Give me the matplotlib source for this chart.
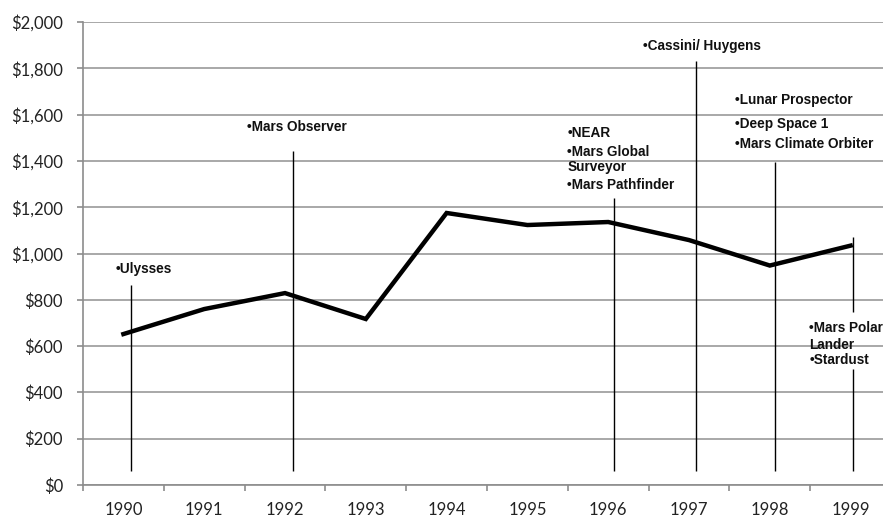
import matplotlib
matplotlib.use("Agg")
import matplotlib.pyplot as plt
from matplotlib.ticker import FuncFormatter, MultipleLocator, FixedLocator

# spending per year ($ millions)
years = ["1990", "1991", "1992", "1993", "1994", "1995", "1996", "1997", "1998", "1999"]
spending = [652, 760, 829, 717, 1175, 1123, 1136, 1058, 948, 1034]

# launch marker lines: year index, bottom and top values
launch_idx = [0, 2, 6, 7, 8, 9, 9]
launch_low = [60, 60, 60, 60, 60, 749, 60]
launch_high = [864, 1444, 1241, 1832, 1397, 1071, 501]

# mission labels, one entry per text line
mission_lines = [
    "\u2022Ulysses",
    "\u2022Mars Observer",
    "\u2022NEAR", "\u2022Mars Global", "Surveyor", "\u2022Mars Pathfinder",
    "\u2022Cassini/ Huygens",
    "\u2022Lunar Prospector", "\u2022Deep Space 1", "\u2022Mars Climate Orbiter",
    "\u2022Mars Polar", "Lander", "\u2022Stardust",
]

# label baselines (x in category units, y in $) - layout only
label_xy = [(-0.10, 916),
            (1.535, 1529),
            (5.495, 1503), (5.495, 1421), (5.495, 1356), (5.495, 1279),
            (6.436, 1877),
            (7.574, 1646), (7.574, 1544), (7.574, 1456),
            (8.49, 661), (8.49, 587), (8.49, 523)]
line_offsets = [0.09, 0.10, 0.07, 0.09, 0.07, 0.025, 0.025]

fig = plt.figure(figsize=(8.83, 5.17), dpi=100)
ax = fig.add_axes([83 / 883, 32 / 517, 808 / 883, 463 / 517])

x = list(range(len(years)))
ax.plot(x, spending, color="black", linewidth=3.2, solid_joinstyle="miter", zorder=3)

xs = [launch_idx[i] + line_offsets[i] for i in range(len(launch_idx))]
ax.vlines(xs, launch_low, launch_high, color="black", linewidth=1.0, zorder=2)

for (tx, ty), txt in zip(label_xy, mission_lines):
    ax.text(tx, ty, txt, ha="left", va="baseline", fontsize=9.8, fontweight="bold",
            family="Liberation Sans", color="#111111", zorder=4)

ax.set_xlim(-0.5, len(years) - 0.5)
ax.set_ylim(0, 2000)
ax.yaxis.set_major_locator(MultipleLocator(200))
ax.yaxis.set_major_formatter(FuncFormatter(lambda v, p: "${:,.0f}".format(v)))
ax.set_xticks(x)
ax.set_xticklabels(years)
ax.xaxis.set_minor_locator(FixedLocator([i - 0.5 for i in range(len(years) + 1)]))
ax.tick_params(axis="x", which="major", length=0, pad=12.5)
ax.tick_params(axis="x", which="minor", length=4, width=1.2, color="#8c8c8c")
ax.tick_params(axis="y", length=4.3, width=1.2, color="#8c8c8c", pad=10)
for lbl in ax.get_xticklabels() + ax.get_yticklabels():
    lbl.set_family("Lato")
    lbl.set_fontsize(12)
    lbl.set_color("#222222")

ax.grid(axis="y", color="#9a9a9a", linewidth=1.2)
ax.set_axisbelow(True)
for side in ["top", "right"]:
    ax.spines[side].set_visible(False)
for side in ["left", "bottom"]:
    ax.spines[side].set_color("#8c8c8c")
    ax.spines[side].set_linewidth(1.2)

fig.savefig("out.png", dpi=100)
